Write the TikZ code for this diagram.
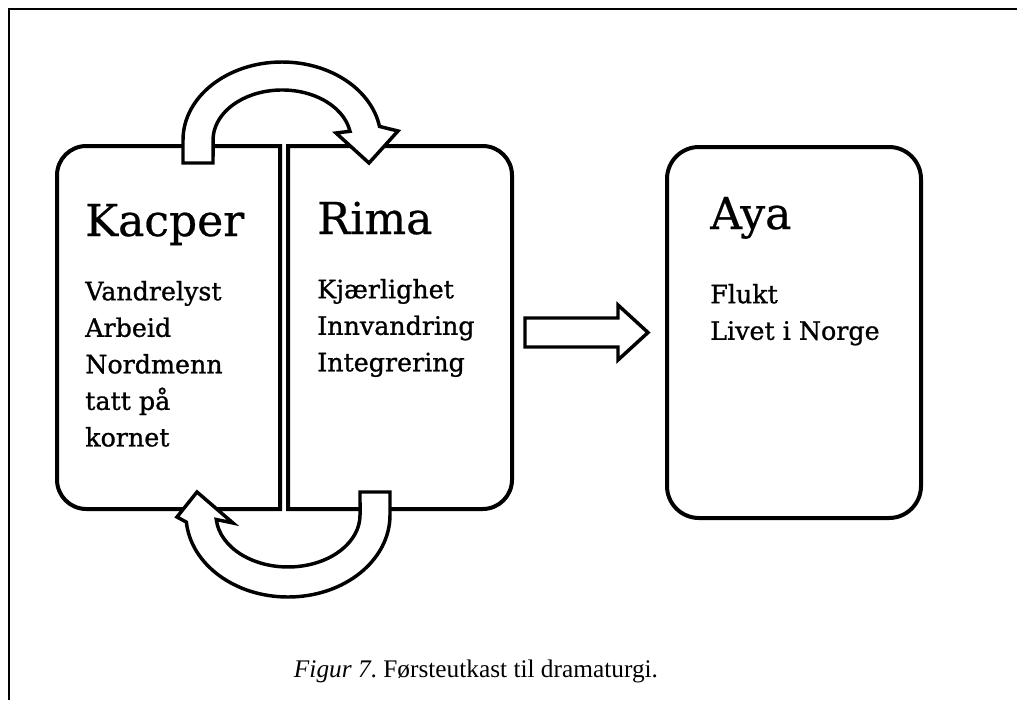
\documentclass[tikz,border=0pt]{standalone}
\usepackage{fontspec}
\setmainfont{Liberation Serif}
\newfontfamily\boxfont[FakeBold=0.6]{DejaVu Serif}
\newfontfamily\listfont[FakeBold=1]{DejaVu Serif}
\usetikzlibrary{positioning}
\tikzset{
x=0.75pt, y=-0.75pt,
box/.style={line width=3pt},
block/.style={line width=2.6pt, fill=white, line join=miter},
persona/.style={anchor=base west, inner sep=0pt, font=\boxfont\fontsize{33}{40}\selectfont},
topics/.style={anchor=north west, inner sep=0pt, align=left, font=\listfont\fontsize{19}{27.4}\selectfont},
}

\begin{document}
\begin{tikzpicture}

    \useasboundingbox (0,0) rectangle (1017,700);
    \draw[line width=1.5pt] (9,700) -- (9,9) -- (1017,9);

    % the three boxes
    \draw[box] (168,146) [rounded corners=22pt] -- (57,146) -- (57,509) -- (168,509)
        [sharp corners] -- (280,509) -- (280,146) -- cycle;
    \draw[box] (400,146) [rounded corners=22pt] -- (512,146) -- (512,509) -- (400,509)
        [sharp corners] -- (288,509) -- (288,146) -- cycle;
    \draw[box, rounded corners=24pt] (667,147) rectangle (921,518);

    % curved arrows between Kacper and Rima
    \draw[block] (183,163) -- (183,140)
        arc[start angle=180, end angle=350, x radius=99, y radius=78]
        -- (398,131) -- (369,163) -- (336,133) -- (350,131.3)
        arc[start angle=350, end angle=180, x radius=69, y radius=50]
        -- (213,163) -- cycle;
    \draw[block] (390,492) -- (390,515)
        arc[start angle=0, end angle=175, x radius=102, y radius=82]
        -- (177,517) -- (197,492) -- (233,523) -- (216.3,519.5)
        arc[start angle=175, end angle=0, x radius=72, y radius=52]
        -- (360,492) -- cycle;

    % arrow on to Aya
    \draw[block] (525,318) -- (618,318) -- (618,305) -- (648,332.5)
        -- (618,360) -- (618,347) -- (525,347) -- cycle;

    \node[persona] (kacper) at (85,236) {Kacper};
    \node[topics] (kacperlist) at (85,274.4) {\strut Vandrelyst\\Arbeid\\Nordmenn\\tatt på\\kornet};
    \node[persona] (rima) at (317,234) {Rima};
    \node[topics] (rimalist) at (317,272.4) {\strut Kjærlighet\\Innvandring\\Integrering};
    \node[persona] (aya) at (710,229) {Aya};
    \node[topics] (ayalist) at (710,277.4) {\strut Flukt\\Livet i Norge};

    \node[anchor=base, font=\fontsize{19}{23}\selectfont] (caption) at (476,677)
        {\frenchspacing\textit{Figur 7}. Førsteutkast til dramaturgi.};

\end{tikzpicture}
\end{document}
